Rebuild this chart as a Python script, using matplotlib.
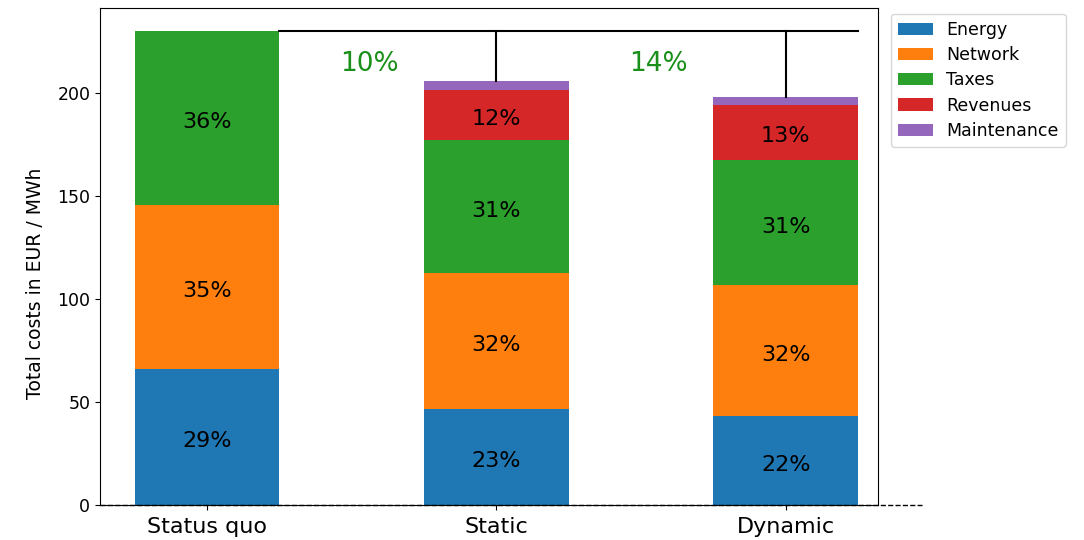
import numpy as np
import matplotlib
matplotlib.use('Agg')
import matplotlib.pyplot as plt

# data
scenarios = ['Status quo', 'Static', 'Dynamic']
components = ['Energy', 'Network', 'Taxes', 'Revenues', 'Maintenance']
energy = [66, 46.5, 43]
network = [79.5, 66, 63.5]
taxes = [84.5, 64.5, 61]
revenues = [0, 24.5, 26.5]
maintenance = [0, 4.3, 4]
pct_labels = [['29%', '35%', '36%', '', ''],
              ['23%', '32%', '31%', '12%', ''],
              ['22%', '32%', '31%', '13%', '']]
savings = ['10%', '14%']

colors = ['#1f77b4', '#ff7f0e', '#2ca02c', '#d62728', '#9467bd']
values = np.array([energy, network, taxes, revenues, maintenance])

fig = plt.figure(figsize=(10.84, 5.4), dpi=100)
ax = fig.add_axes([0.0923, 0.065, 0.718, 0.92])

x = np.arange(len(scenarios))
w = 0.5
bottom = np.zeros(len(scenarios))
for i, comp in enumerate(components):
    ax.bar(x, values[i], w, bottom=bottom, color=colors[i], label=comp)
    for j in range(len(scenarios)):
        if pct_labels[j][i]:
            ax.text(x[j], bottom[j] + values[i][j] / 2 - 1, pct_labels[j][i],
                    ha='center', va='center_baseline', fontsize=16)
    bottom += values[i]

totals = bottom
ref = totals[0]
# bracket line comparing totals
ax.plot([x[0] + w / 2, x[2] + w / 2], [ref, ref], color='k', lw=1.5)
for j in [1, 2]:
    ax.plot([x[j], x[j]], [ref, totals[j]], color='k', lw=1.5)
    ax.text((x[j - 1] + x[j]) / 2 + 0.06, 214, savings[j - 1],
            ha='center', va='center', fontsize=19, color='#1a8f1a')

ax.set_xlim(-0.37, 2.32)
ax.set_ylim(0, 241)
ax.plot([-0.37, 2.47], [0, 0], 'k--', lw=1, clip_on=False)
ax.set_xticks(x)
ax.set_xticklabels(scenarios, fontsize=16)
ax.tick_params(axis='x', pad=5)
ax.set_yticks([0, 50, 100, 150, 200])
ax.tick_params(axis='y', labelsize=12.5)
ax.set_ylabel('Total costs in EUR / MWh', fontsize=13.5)
ax.yaxis.set_label_coords(-0.071, 0.447)

ax.legend(loc='upper left', bbox_to_anchor=(1.005, 1.006), fontsize=12.5,
          labelspacing=0.42)

plt.savefig('out.png')
